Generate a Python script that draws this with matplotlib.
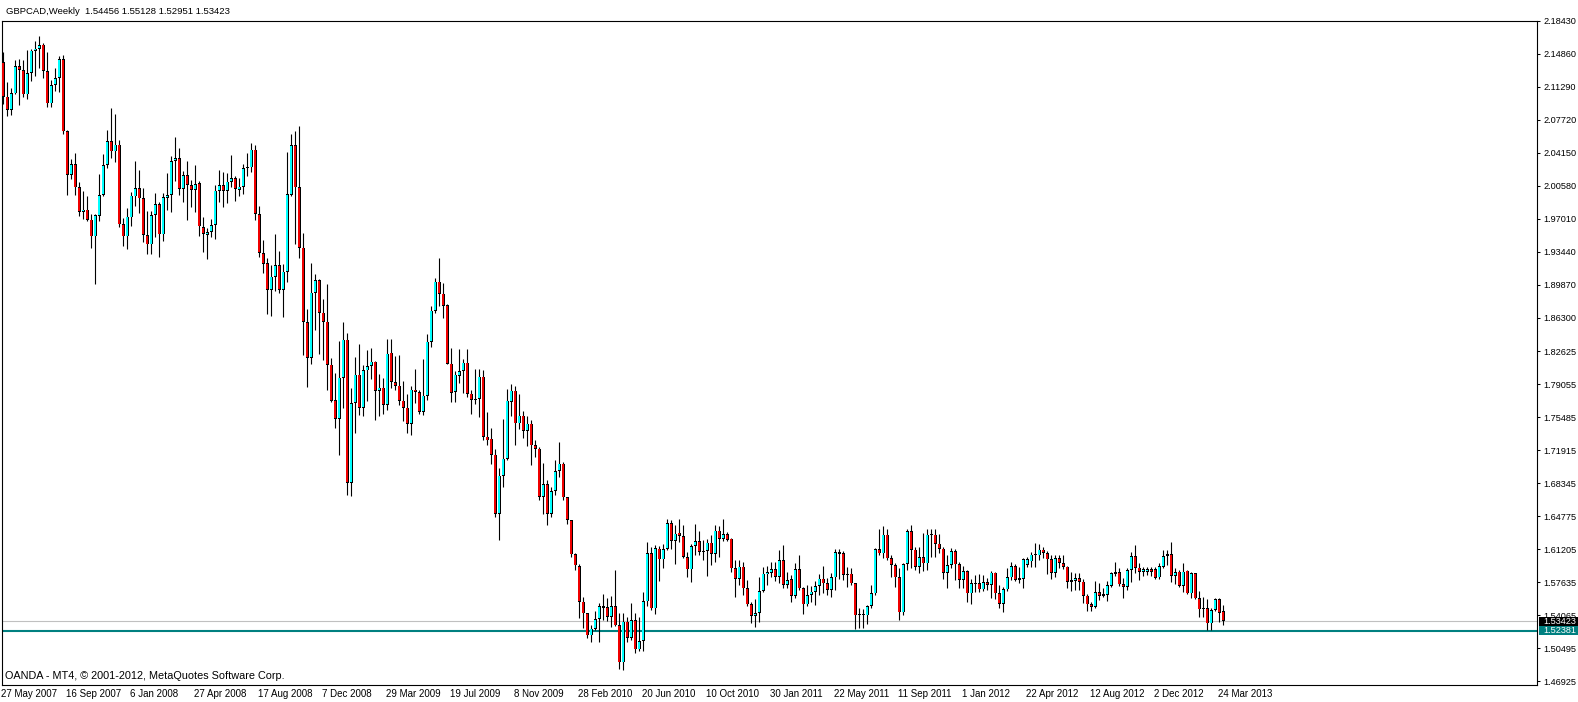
import matplotlib
matplotlib.use("Agg")
import matplotlib.pyplot as plt
import matplotlib.transforms as mtrans
from matplotlib.patches import Rectangle

plt.rcParams['font.family'] = ['Liberation Sans', 'DejaVu Sans']

# ---------------- data (weekly GBPCAD, starting 27 May 2007) ----------------
opens = [
 2.1395,2.1023,2.0879,2.1059,2.1355,2.1312,2.1049,2.1280,2.1518,2.1539,
 2.1586,2.1301,2.0951,2.1150,2.1225,2.1431,2.0652,2.0175,2.0294,2.0046,
 1.9778,1.9800,1.9691,1.9511,1.9734,1.9959,2.0284,2.0543,2.0431,2.0503,
 1.9644,1.9511,1.9716,1.9944,2.0034,1.9926,1.9525,1.9424,1.9742,1.9861,
 1.9532,1.9926,1.9958,2.0327,2.0359,2.0023,2.0175,2.0067,2.0013,2.0088,
 1.9612,1.9525,1.9558,1.9633,2.0005,2.0067,2.0005,2.0103,2.0143,2.0013,
 2.0049,2.0265,2.0258,2.0449,1.9754,1.9328,1.9220,1.8931,1.9072,1.9195,
 1.8931,1.9126,1.9959,2.0500,2.0042,1.9386,1.8581,1.8195,1.8899,1.9039,
 1.8682,1.8585,1.8119,1.7733,1.7535,1.7979,1.8390,1.6842,1.7705,1.8011,
 1.7654,1.8058,1.8105,1.8152,1.7834,1.7871,1.7687,1.8249,1.7932,1.7892,
 1.7730,1.7654,1.7477,1.7849,1.7824,1.7607,1.7784,1.8368,1.8704,1.9018,
 1.8888,1.8762,1.8130,1.7824,1.7997,1.8051,1.8141,1.7806,1.7751,1.7748,
 1.7989,1.7340,1.7318,1.7145,1.6500,1.6918,1.7099,1.7715,1.7838,1.7484,
 1.7567,1.7400,1.7480,1.7247,1.7211,1.6688,1.6825,1.6507,1.6753,1.6969,
 1.7048,1.6681,1.6435,1.6064,1.5937,1.5551,1.5425,1.5187,1.5259,1.5364,
 1.5504,1.5490,1.5389,1.5504,1.5295,1.4895,1.5335,1.5162,1.5349,1.5036,
 1.5126,1.5555,1.6074,1.5479,1.6128,1.6009,1.6121,1.6399,1.6211,1.6301,
 1.6265,1.6038,1.5901,1.6153,1.6207,1.6092,1.6099,1.6193,1.6070,1.6323,
 1.6236,1.6283,1.6236,1.5912,1.5803,1.5930,1.5695,1.5522,1.5399,1.5428,
 1.5666,1.5847,1.5865,1.5901,1.5821,1.6002,1.5731,1.5796,1.5616,1.5901,
 1.5695,1.5522,1.5623,1.5659,1.5720,1.5803,1.5749,1.5677,1.5814,1.6085,
 1.6074,1.5839,1.5857,1.5749,1.5403,1.5403,1.5403,1.5504,1.5641,1.6121,
 1.6074,1.6279,1.6020,1.5948,1.5814,1.5435,1.5958,1.6316,1.6117,1.5930,
 1.6031,1.5966,1.6272,1.6279,1.6182,1.6128,1.5865,1.5948,1.6099,1.5955,
 1.5792,1.5883,1.5641,1.5742,1.5749,1.5684,1.5760,1.5738,1.5868,1.5641,
 1.5526,1.5684,1.5814,1.5937,1.5803,1.5803,1.5948,1.5990,1.6053,1.6053,
 1.6117,1.6081,1.6009,1.5865,1.6020,1.5973,1.5930,1.5786,1.5778,1.5804,
 1.5768,1.5616,1.5522,1.5497,1.5652,1.5616,1.5627,1.5724,1.5869,1.5869,
 1.5742,1.5714,1.5894,1.6045,1.5919,1.5876,1.5876,1.5901,1.5901,1.5814,
 1.5930,1.6045,1.6067,1.5829,1.5876,1.5721,1.5887,1.5641,1.5858,1.5587,
 1.5479,1.5479,1.5317,1.5461,1.5580,1.54456]
highs = [
 2.1503,2.1186,2.1121,2.1420,2.1431,2.1420,2.1529,2.1539,2.1630,2.1684,
 2.1604,2.1503,2.1204,2.1330,2.1467,2.1474,2.0666,2.0348,2.0410,2.0096,
 1.9998,1.9951,1.9753,1.9753,2.0186,2.0403,2.0666,2.0897,2.0835,2.0557,
 1.9709,1.9814,1.9994,2.0330,2.0233,2.0034,1.9789,1.9789,1.9980,1.9879,
 1.9980,2.0193,2.0384,2.0590,2.0471,2.0222,2.0330,2.0121,2.0287,2.0114,
 1.9716,1.9597,1.9698,2.0067,2.0233,2.0204,2.0193,2.0396,2.0168,2.0143,
 2.0294,2.0417,2.0525,2.0503,1.9844,1.9472,1.9277,1.9195,1.9530,1.9346,
 1.9205,2.0428,2.0619,2.0656,2.0710,1.9548,1.8726,1.9223,1.9104,1.9050,
 1.8834,1.8989,1.8195,1.8033,1.8372,1.8578,1.8462,1.7871,1.8202,1.8340,
 1.8112,1.8275,1.8303,1.8160,1.8015,1.7979,1.8394,1.8401,1.8210,1.8228,
 1.7939,1.7798,1.7892,1.8076,1.7842,1.8177,1.8455,1.8751,1.9054,1.9277,
 1.9003,1.8772,1.8303,1.8047,1.8293,1.8177,1.8285,1.7842,1.8069,1.8069,
 1.8065,1.7611,1.7434,1.7210,1.7005,1.7535,1.7860,1.7914,1.7889,1.7806,
 1.7620,1.7560,1.7520,1.7300,1.7229,1.7059,1.6868,1.6796,1.7085,1.7283,
 1.7067,1.6688,1.6440,1.6075,1.5955,1.5598,1.5430,1.5299,1.5450,1.5533,
 1.5631,1.5587,1.5613,1.5894,1.5425,1.5425,1.5389,1.5541,1.5425,1.5389,
 1.5660,1.6200,1.6146,1.6164,1.6157,1.6182,1.6453,1.6435,1.6381,1.6453,
 1.6388,1.6092,1.6182,1.6398,1.6316,1.6218,1.6236,1.6272,1.6381,1.6374,
 1.6453,1.6308,1.6243,1.6002,1.6002,1.5984,1.5785,1.5551,1.5576,1.5814,
 1.5930,1.5937,1.5977,1.5984,1.6110,1.6164,1.5875,1.5839,1.5966,1.6056,
 1.5713,1.5731,1.5724,1.5774,1.5847,1.5940,1.5810,1.5865,1.6128,1.6128,
 1.6099,1.5930,1.5922,1.5756,1.5479,1.5468,1.5515,1.5731,1.6135,1.6344,
 1.6370,1.6344,1.6056,1.5966,1.5912,1.5976,1.6344,1.6381,1.6146,1.6139,
 1.6301,1.6337,1.6337,1.6337,1.6290,1.6146,1.6063,1.6135,1.6128,1.5977,
 1.5937,1.5894,1.5803,1.5839,1.5857,1.5839,1.5810,1.5883,1.5875,1.5731,
 1.5713,1.5912,1.5977,1.5955,1.5930,1.6027,1.6038,1.6092,1.6190,1.6175,
 1.6146,1.6103,1.6056,1.6063,1.6063,1.6056,1.5941,1.5876,1.5858,1.5858,
 1.5793,1.5634,1.5551,1.5775,1.5750,1.5695,1.5775,1.5876,1.5977,1.5912,
 1.5804,1.5919,1.6085,1.6164,1.5973,1.5930,1.5930,1.5930,1.5930,1.5966,
 1.6110,1.6110,1.6200,1.5912,1.5894,1.5966,1.5894,1.5876,1.5862,1.5667,
 1.5605,1.5576,1.5479,1.5587,1.5587,1.55128]
lows = [
 2.0944,2.0810,2.0825,2.1052,2.0933,2.1016,2.0998,2.1196,2.1251,2.1330,
 2.1222,2.0915,2.0908,2.1088,2.1070,2.0619,1.9959,2.0132,1.9959,1.9728,
 1.9699,1.9677,1.9381,1.8991,1.9681,1.9944,2.0247,2.0355,2.0312,1.9608,
 1.9402,1.9373,1.9626,1.9839,1.9760,1.9453,1.9316,1.9316,1.9507,1.9283,
 1.9464,1.9800,1.9771,2.0114,1.9958,1.9879,1.9688,1.9832,1.9771,1.9511,
 1.9337,1.9265,1.9507,1.9478,1.9886,1.9825,1.9868,2.0042,1.9890,1.9951,
 1.9969,2.0168,2.0204,1.9688,1.9285,1.9115,1.8664,1.8646,1.8917,1.8895,
 1.8635,1.9014,1.9952,1.9429,1.9274,1.8220,1.7878,1.8130,1.8491,1.8238,
 1.8174,1.7842,1.7715,1.7438,1.7145,1.7654,1.6713,1.6698,1.7380,1.7578,
 1.7564,1.7726,1.7968,1.7524,1.7560,1.7589,1.7632,1.7867,1.7842,1.7683,
 1.7506,1.7380,1.7358,1.7705,1.7589,1.7575,1.7733,1.8311,1.8682,1.8754,
 1.8624,1.8123,1.7712,1.7712,1.7925,1.7816,1.7766,1.7589,1.7690,1.7553,
 1.7300,1.7254,1.7041,1.6471,1.6225,1.6795,1.7084,1.7560,1.7250,1.7427,
 1.7330,1.7236,1.7038,1.7121,1.6652,1.6500,1.6388,1.6471,1.6706,1.6904,
 1.6652,1.6392,1.6031,1.5894,1.5378,1.5263,1.5155,1.5118,1.5245,1.5118,
 1.5353,1.5346,1.5281,1.5292,1.4819,1.4812,1.5111,1.5137,1.4992,1.5021,
 1.5021,1.5508,1.5461,1.5414,1.5774,1.5912,1.6110,1.6128,1.5955,1.6200,
 1.6020,1.5821,1.5767,1.6056,1.6056,1.6002,1.5829,1.5948,1.5984,1.6038,
 1.6207,1.6211,1.5875,1.5605,1.5738,1.5623,1.5508,1.5316,1.5273,1.5334,
 1.5652,1.5731,1.5821,1.5774,1.5749,1.5702,1.5695,1.5551,1.5587,1.5677,
 1.5414,1.5508,1.5551,1.5515,1.5623,1.5641,1.5623,1.5605,1.5677,1.5803,
 1.5785,1.5713,1.5738,1.5251,1.5262,1.5269,1.5305,1.5479,1.5623,1.6056,
 1.6020,1.6002,1.5821,1.5713,1.5352,1.5406,1.5894,1.5912,1.5894,1.5865,
 1.5883,1.5894,1.6038,1.6038,1.6074,1.5796,1.5702,1.5912,1.5785,1.5695,
 1.5695,1.5544,1.5522,1.5659,1.5659,1.5666,1.5677,1.5587,1.5580,1.5479,
 1.5435,1.5666,1.5785,1.5774,1.5749,1.5702,1.5930,1.5930,1.5930,1.6002,
 1.6020,1.5851,1.5796,1.5822,1.5912,1.5901,1.5703,1.5670,1.5677,1.5677,
 1.5533,1.5454,1.5454,1.5479,1.5569,1.5605,1.5562,1.5714,1.5833,1.5721,
 1.5594,1.5677,1.5768,1.5858,1.5786,1.5833,1.5840,1.5829,1.5797,1.5800,
 1.5912,1.5948,1.5768,1.5742,1.5706,1.5659,1.5634,1.5587,1.5576,1.5389,
 1.5389,1.5245,1.5245,1.5450,1.5335,1.52951]
closes = [
 2.1023,2.0879,2.1063,2.1355,2.1312,2.1049,2.1280,2.1521,2.1543,2.1583,
 2.1301,2.0951,2.1150,2.1225,2.1431,2.0648,2.0175,2.0294,2.0042,1.9778,
 1.9800,1.9688,1.9511,1.9742,1.9959,2.0284,2.0543,2.0431,2.0503,1.9640,
 1.9511,1.9723,1.9951,2.0034,1.9922,1.9525,1.9424,1.9742,1.9861,1.9532,
 1.9933,1.9958,2.0327,2.0359,2.0023,2.0175,2.0067,2.0013,2.0077,1.9619,
 1.9536,1.9558,1.9633,2.0005,2.0067,2.0005,2.0103,2.0143,2.0023,2.0049,
 2.0251,2.0247,2.0449,1.9753,1.9328,1.9213,1.8931,1.9072,1.9195,1.8931,
 1.9126,1.9970,2.0500,2.0042,1.9386,1.8581,1.8195,1.8899,1.9039,1.8682,
 1.8581,1.8119,1.7726,1.7535,1.7979,1.8390,1.6842,1.7705,1.8011,1.7654,
 1.8058,1.8105,1.8152,1.7834,1.7871,1.7687,1.8238,1.7932,1.7888,1.7726,
 1.7650,1.7477,1.7849,1.7824,1.7607,1.7784,1.8368,1.8704,1.9018,1.8888,
 1.8754,1.8130,1.7813,1.8011,1.8051,1.8141,1.7802,1.7741,1.7737,1.7989,
 1.7337,1.7300,1.7145,1.6500,1.6918,1.7102,1.7730,1.7838,1.7484,1.7567,
 1.7400,1.7480,1.7247,1.7211,1.6688,1.6825,1.6507,1.6753,1.6969,1.7048,
 1.6681,1.6435,1.6064,1.5945,1.5551,1.5425,1.5187,1.5259,1.5364,1.5504,
 1.5486,1.5389,1.5504,1.5295,1.4895,1.5335,1.5162,1.5349,1.5036,1.5126,
 1.5555,1.6074,1.5479,1.6135,1.6009,1.6121,1.6399,1.6211,1.6290,1.6265,
 1.6038,1.5901,1.6153,1.6207,1.6092,1.6103,1.6193,1.6070,1.6323,1.6236,
 1.6283,1.6222,1.5912,1.5803,1.5930,1.5695,1.5522,1.5399,1.5428,1.5666,
 1.5854,1.5875,1.5901,1.5821,1.6002,1.5731,1.5785,1.5616,1.5901,1.5695,
 1.5522,1.5623,1.5659,1.5720,1.5803,1.5749,1.5677,1.5814,1.6085,1.6070,
 1.5839,1.5857,1.5749,1.5403,1.5414,1.5414,1.5504,1.5641,1.6121,1.6074,
 1.6279,1.6020,1.5948,1.5814,1.5435,1.5958,1.6316,1.6117,1.5930,1.6038,
 1.5966,1.6279,1.6279,1.6182,1.6128,1.5865,1.5948,1.6099,1.5955,1.5792,
 1.5883,1.5641,1.5749,1.5749,1.5684,1.5760,1.5738,1.5868,1.5641,1.5526,
 1.5684,1.5814,1.5937,1.5792,1.5792,1.6009,1.6009,1.6060,1.6067,1.6117,
 1.6081,1.6009,1.5865,1.6020,1.5973,1.5930,1.5768,1.5768,1.5804,1.5768,
 1.5616,1.5522,1.5497,1.5652,1.5616,1.5634,1.5732,1.5858,1.5851,1.5739,
 1.5714,1.5894,1.6045,1.5919,1.5876,1.5901,1.5905,1.5876,1.5811,1.5937,
 1.6045,1.6067,1.5829,1.5869,1.5721,1.5876,1.5641,1.5858,1.5587,1.5468,
 1.5468,1.5317,1.5461,1.5580,1.5432,1.53423]

date_labels = ["27 May 2007", "16 Sep 2007", "6 Jan 2008", "27 Apr 2008",
               "17 Aug 2008", "7 Dec 2008", "29 Mar 2009", "19 Jul 2009",
               "8 Nov 2009", "28 Feb 2010", "20 Jun 2010", "10 Oct 2010",
               "30 Jan 2011", "22 May 2011", "11 Sep 2011", "1 Jan 2012",
               "22 Apr 2012", "12 Aug 2012", "2 Dec 2012", "24 Mar 2013"]
date_label_bars = list(range(0, 305, 16))

price_ticks = [2.18430, 2.14860, 2.11290, 2.07720, 2.04150, 2.00580, 1.97010,
               1.93440, 1.89870, 1.86300, 1.82625, 1.79055, 1.75485, 1.71915,
               1.68345, 1.64775, 1.61205, 1.57635, 1.54065, 1.50495, 1.46925]

title_text = "GBPCAD,Weekly  1.54456 1.55128 1.52951 1.53423"
footer_text = "OANDA - MT4, \u00a9 2001-2012, MetaQuotes Software Corp."
bid_price = 1.53423
hline_price = 1.52381

# ---------------- figure ----------------
W, H = 1578, 702
PX = 924.0  # pixels per price unit on this chart
fig = plt.figure(figsize=(W / 100, H / 100), dpi=100)
fig.patch.set_facecolor("white")
ax = fig.add_axes([2 / W, (H - 685) / H, 1535 / W, 664 / H])
ax.set_facecolor("white")

n = len(opens)
xs = list(range(n))
bull_col = "#00FFFF"
bear_col = "#F00000"

# wicks
ax.vlines(xs, lows, highs, colors="black", linewidth=0.8, zorder=3)

# bodies: black outline box with coloured core
ob, oh, ib, ih, ix, icol = [], [], [], [], [], []
inset = 0.7 / PX
for i, (o, c) in enumerate(zip(opens, closes)):
    lo, hi = min(o, c), max(o, c)
    ob.append(lo)
    oh.append(max(hi - lo, 1.2 / PX))
    if hi - lo > 2 * inset + 0.3 / PX:
        ix.append(i)
        ib.append(lo + inset)
        ih.append(hi - lo - 2 * inset)
        icol.append(bull_col if c >= o else bear_col)
ax.bar(xs, oh, bottom=ob, width=0.86, color="black", linewidth=0, zorder=4)
ax.bar(ix, ih, bottom=ib, width=0.52, color=icol, linewidth=0, zorder=5)

# horizontal lines
ax.axhline(bid_price, color="#C0C0C0", linewidth=0.8, zorder=2)
ax.axhline(hline_price, color="#008080", linewidth=1.5, zorder=2)

ax.set_xlim(-0.325, 383.4)
ax.set_ylim(1.46492, 2.18354)

for sp in ax.spines.values():
    sp.set_color("black")
    sp.set_linewidth(0.8)

ax.set_xticks([])
ax.yaxis.tick_right()
ax.set_yticks(price_ticks)
ax.set_yticklabels(["%.5f" % v for v in price_ticks])
ax.tick_params(axis="y", direction="out", length=2.2, width=0.75,
               pad=2.6, labelsize=6.6, colors="black")

# date labels
tr_x = mtrans.blended_transform_factory(ax.transData, fig.transFigure)
for b, lab in zip(date_label_bars, date_labels):
    ax.text(b - 0.45, 1 - 694 / H, lab, transform=tr_x, ha="left",
            va="center", fontsize=7, clip_on=False)

# title and footer
fig.text(6 / W, 1 - 11 / H, title_text, ha="left", va="center", fontsize=6.8)
fig.text(5 / W, 1 - 676 / H, footer_text, ha="left", va="center",
         fontsize=7.8, zorder=6)

# price boxes on the right axis
tr_y = mtrans.blended_transform_factory(fig.transFigure, ax.transData)
hh = 9.0 / PX
for price, fc in [(bid_price, "black"), (hline_price, "#008080")]:
    fig.add_artist(Rectangle((1539 / W, price - hh / 2), (W - 1539) / W, hh,
                             transform=tr_y, facecolor=fc, edgecolor="none",
                             zorder=5))
    fig.text(1543 / W, price, "%.5f" % price, transform=tr_y, ha="left",
             va="center", color="white", fontsize=6.6, zorder=6)

fig.savefig("out.png", dpi=100, facecolor="white")
